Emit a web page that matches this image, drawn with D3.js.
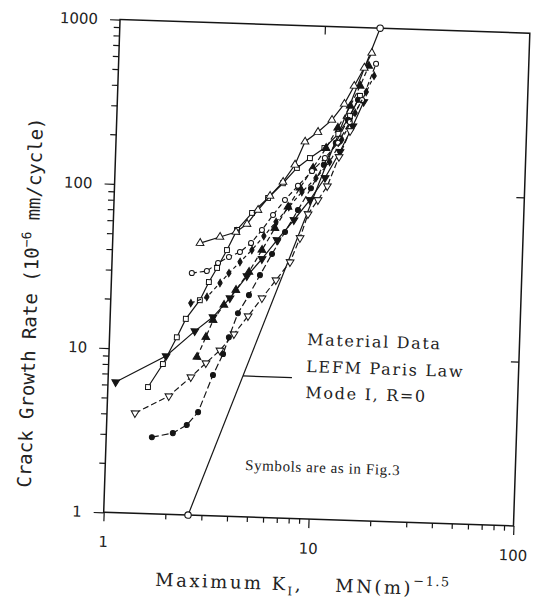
<!DOCTYPE html>
<html><head><meta charset="utf-8">
<script src="https://cdn.jsdelivr.net/npm/d3@7"></script>
<style>body{margin:0;background:#fff}svg{display:block}</style>
</head><body>
<svg id="c" width="535" height="604"></svg>
<script>
// ---------- data ----------
const xMajor = [1, 10, 100];
const xLabels = ["1", "10", "100"];
const xMinor = [2,3,4,5,6,7,8,9,20,30,40,50,60,70,80,90];
const yMajor = [1, 10, 100, 1000];
const yLabels = ["1", "10", "100", "1000"];
const yMinor = [2,3,4,5,6,7,8,9,20,30,40,50,60,70,80,90,200,300,400,500,600,700,800,900];

// series A: filled down-triangles
const aK = [1.09,1.90,2.60,3.17,3.81,4.57,5.38,6.32,7.59,9.02,10.6,12.4,14.2,15.9];
const aR = [6.23,9.18,13.2,16.2,21.3,29.2,37.4,49.1,65.5,87.4,120,174,251,354];
// series B: open squares
const bK = [1.57,1.84,2.13,2.34,2.72,2.99,3.26,3.62,4.02,4.73,5.63,6.62,7.70,8.88,10.4,12.1,13.7,15.2];
const bR = [5.90,8.20,12.0,15.6,20.4,26.4,32.3,41.7,55.5,70.9,88.1,109,136,157,182,223,289,384];
// series C: open down-triangles
const cK = [1.37,1.99,2.53,2.98,3.47,4.04,4.70,5.46,6.34,7.38,8.18,8.87,9.87,10.9,12.3,13.8];
const cR = [4.07,5.25,6.92,8.48,10.2,12.9,16.7,21.6,28.0,36.3,51.1,71.7,87.7,107,162,234];
// series D: filled circles
const dK = [1.67,2.11,2.46,2.78,3.24,3.60,3.82,4.19,4.71,5.29,6.01,6.90,7.91,9.08,10.4,11.8,13.4,14.9];
const dR = [2.93,3.13,3.53,4.25,7.19,9.70,12.3,17.3,22.4,29.8,40.3,55.2,75.5,103,144,197,273,363];
// series E: filled up-triangles
const eK = [2.69,2.95,3.18,3.57,4.06,4.67,5.36,6.15,7.07,8.03,9.22,10.6,12.0,13.7,15.2,16.6];
const eR = [9.19,12.2,15.5,19.3,23.9,31.0,42.4,58.0,78.4,103,137,182,243,332,442,587];
// series F: open up-triangles
const fK = [2.67,3.33,3.98,4.49,5.05,5.75,6.62,7.52,8.35,9.62,11.2,12.8,14.2,15.8,17.1];
const fR = [45.4,49.9,53.9,60.6,74.1,90.7,111,142,197,227,271,341,440,570,705];
// series G: open circles
const gK = [2.46,2.91,3.29,3.71,4.19,4.73,5.32,5.99,6.81,7.84,9.13,10.5,12.1,13.7,15.6,18.0];
const gR = [29.7,30.8,34.6,37.9,40.8,46.5,56.1,69.6,86.4,106,131,158,197,265,363,606];
// series H: filled diamonds
const hK = [2.46,2.94,3.39,3.73,4.21,4.79,5.45,6.21,7.14,8.22,9.57,11.1,12.6,14.5,16.3,17.7];
const hR = [19.5,21.4,26.2,30.2,35.5,42.2,51.6,63.2,78.4,97.4,119,150,206,302,407,512];

// LEFM Paris law line and pointer
const parisK = [2.58, 18.6];
const parisR = [1, 1000];
const pointerK = [4.54, 7.87];
const pointerR = [7.2, 7.2];

// ---------- styling ----------
const styles = [
  {K:aK, R:aR, sym:"triDown", fill:true,  dash:null},
  {K:bK, R:bR, sym:"square",  fill:false, dash:null},
  {K:cK, R:cR, sym:"triDown", fill:false, dash:"6,3"},
  {K:dK, R:dR, sym:"circle",  fill:true,  dash:"7,3"},
  {K:eK, R:eR, sym:"triUp",   fill:true,  dash:"5,3"},
  {K:fK, R:fR, sym:"triUp",   fill:false, dash:null},
  {K:gK, R:gR, sym:"circle",  fill:false, dash:"5,3"},
  {K:hK, R:hR, sym:"diamond", fill:true,  dash:"4,3"}
];

const L = 111.75, T = 26.25, PW = 410, PH = 493;
const ink = "#151515";
const x = d3.scaleLog().domain([1, 100]).range([L, L + PW]);
const y = d3.scaleLog().domain([1, 1000]).range([T + PH, T]);

const svg = d3.select("#c");
const g = svg.append("g").attr("transform", "rotate(1.9,316.75,272.75)");

g.append("rect").attr("x", L).attr("y", T).attr("width", PW).attr("height", PH)
  .attr("fill", "none").attr("stroke", ink).attr("stroke-width", 1.5);

function axisG(gen, tr) {
  const a = g.append("g").attr("transform", tr).call(gen);
  a.select(".domain").remove();
  a.selectAll("line").attr("stroke", ink).attr("stroke-width", 1.2);
  a.selectAll("text").attr("font-family", "DejaVu Sans").attr("font-size", 15).attr("fill", "#222");
  return a;
}
axisG(d3.axisBottom(x).tickValues(xMinor).tickSize(5).tickFormat(""), `translate(0,${T + PH})`);
axisG(d3.axisBottom(x).tickValues(xMajor).tickSize(9).tickPadding(15).tickFormat((d, i) => xLabels[i]), `translate(0,${T + PH})`);
axisG(d3.axisLeft(y).tickValues(yMinor).tickSize(6).tickFormat(""), `translate(${L},0)`);
axisG(d3.axisLeft(y).tickValues(yMajor).tickSize(10).tickPadding(12).tickFormat((d, i) => yLabels[i]), `translate(${L},0)`);
axisG(d3.axisBottom(x).tickValues([10]).tickSize(8).tickFormat(""), `translate(0,${T})`);
axisG(d3.axisLeft(y).tickValues([10, 100]).tickSize(8).tickFormat(""), `translate(${L + PW},0)`);

// Paris law
const line = d3.line().x(d => x(d[0])).y(d => y(d[1]));
g.append("path").attr("d", line(d3.zip(parisK, parisR))).attr("fill", "none")
  .attr("stroke", ink).attr("stroke-width", 1.2);
g.selectAll(".pc").data(d3.zip(parisK, parisR)).enter().append("circle")
  .attr("cx", d => x(d[0])).attr("cy", d => y(d[1])).attr("r", 3.2)
  .attr("fill", "#fff").attr("stroke", ink).attr("stroke-width", 1.1);
g.append("path").attr("d", line(d3.zip(pointerK, pointerR))).attr("fill", "none")
  .attr("stroke", ink).attr("stroke-width", 1.2);

// series
const symMap = {
  circle: d3.symbol().type(d3.symbolCircle).size(20),
  square: d3.symbol().type(d3.symbolSquare).size(24),
  triUp: d3.symbol().type(d3.symbolTriangle).size(26),
  triDown: d3.symbol().type(d3.symbolTriangle).size(26),
  diamond: d3.symbol().type(d3.symbolDiamond).size(16)
};
styles.forEach(s => {
  const pts = d3.zip(s.K, s.R);
  g.append("path").attr("d", line(pts)).attr("fill", "none").attr("stroke", ink)
    .attr("stroke-width", 1.2).attr("stroke-dasharray", s.dash);
  g.selectAll(null).data(pts).enter().append("path")
    .attr("d", symMap[s.sym]())
    .attr("transform", d => `translate(${x(d[0])},${y(d[1])})` + (s.sym === "triDown" ? " rotate(180)" : ""))
    .attr("fill", s.fill ? ink : "#fff").attr("stroke", ink).attr("stroke-width", 1);
});

// titles
const yt = g.append("text").attr("transform", "translate(38,312) rotate(-90)")
  .attr("text-anchor", "middle").attr("font-family", "DejaVu Sans Mono")
  .attr("font-size", 19).attr("fill", "#222");
yt.append("tspan").text("Crack Growth Rate  (10");
yt.append("tspan").attr("font-size", 13).attr("dy", -8).text("\u22126");
yt.append("tspan").attr("dy", 8).text(" mm/cycle)");

const xt = g.append("text").attr("x", 165.5).attr("y", 591)
  .attr("font-family", "DejaVu Serif").attr("font-size", 18)
  .attr("letter-spacing", 2.5).attr("fill", "#222");
xt.append("tspan").text("Maximum K");
xt.append("tspan").attr("font-size", 12).attr("dy", 5).text("I");
xt.append("tspan").attr("dy", -5).text(",");
xt.append("tspan").attr("x", 345.6).text("MN(m)");
xt.append("tspan").attr("font-size", 13).attr("letter-spacing", 1.5).attr("dy", -9).text("\u22121.5");

const ann = ["Material Data", "LEFM Paris Law", "Mode I, R=0"];
const annY = [345.3, 372.3, 398.3];
ann.forEach((t, i) => {
  g.append("text").attr("x", 309.3).attr("y", annY[i]).attr("font-family", "DejaVu Serif")
    .attr("font-size", 16).attr("letter-spacing", 1.7).attr("fill", "#222").text(t);
});
g.append("text").attr("x", 251.6).attr("y", 472.3).attr("font-family", "Liberation Serif")
  .attr("font-size", 15).attr("letter-spacing", 0.6).attr("fill", "#222").text("Symbols are as in Fig.3");
</script>
</body></html>
